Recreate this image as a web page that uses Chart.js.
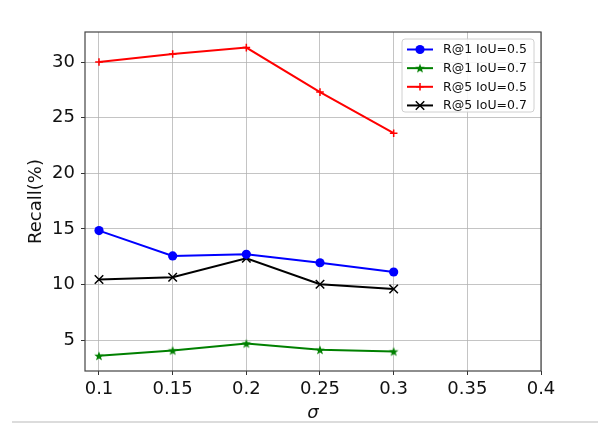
<!DOCTYPE html>
<html>
<head>
<meta charset="utf-8">
<script src="https://cdn.jsdelivr.net/npm/chart.js@4"></script>
<style>
  body { margin: 0; background: #fff; }
  #wrap { position: relative; width: 598px; height: 435px; }
  #rule { position: absolute; left: 12px; right: 0; top: 421px; height: 2px; background: #dcdcdc; }
</style>
</head>
<body>
<div id="wrap">
  <canvas id="chart" width="598" height="435"></canvas>
  <div id="rule"></div>
</div>
<script>
// data
const sigma = [0.1, 0.15, 0.2, 0.25, 0.3];
const r1Iou05 = [14.85, 12.57, 12.72, 11.96, 11.13];
const r1Iou07 = [3.59, 4.07, 4.70, 4.13, 3.98];
const r5Iou05 = [30.0, 30.72, 31.3, 27.3, 23.6];
const r5Iou07 = [10.45, 10.66, 12.36, 10.03, 9.6];
const seriesLabels = ['R@1 IoU=0.5', 'R@1 IoU=0.7', 'R@5 IoU=0.5', 'R@5 IoU=0.7'];
const xTicks = [0.1, 0.15, 0.2, 0.25, 0.3, 0.35, 0.4];
const yTicks = [5, 10, 15, 20, 25, 30];

const FONT = 'DejaVu Sans';

// filled five point star, like matplotlib '*'
function makeStar(color) {
  const c = document.createElement('canvas');
  c.width = 12; c.height = 12;
  const g = c.getContext('2d');
  g.beginPath();
  for (let i = 0; i < 10; i++) {
    const r = i % 2 === 0 ? 5 : 2.1;
    const a = -Math.PI / 2 + i * Math.PI / 5;
    const px = 6 + r * Math.cos(a), py = 6.4 + r * Math.sin(a);
    if (i === 0) g.moveTo(px, py); else g.lineTo(px, py);
  }
  g.closePath();
  g.fillStyle = color;
  g.fill();
  return c;
}

function toPoints(ys) {
  return sigma.map((x, i) => ({ x: x, y: ys[i] }));
}

const datasets = [
  { label: seriesLabels[0], data: toPoints(r1Iou05), borderColor: '#0000ff', backgroundColor: '#0000ff',
    pointStyle: 'circle', pointRadius: 4.6, pointBorderWidth: 0 },
  { label: seriesLabels[1], data: toPoints(r1Iou07), borderColor: '#008000', backgroundColor: '#008000',
    pointStyle: makeStar('#008000'), pointRadius: 5 },
  { label: seriesLabels[2], data: toPoints(r5Iou05), borderColor: '#ff0000', backgroundColor: '#ff0000',
    pointStyle: 'cross', pointRadius: 3.8, pointBorderWidth: 1.5 },
  { label: seriesLabels[3], data: toPoints(r5Iou07), borderColor: '#000000', backgroundColor: '#000000',
    pointStyle: 'crossRot', pointRadius: 6, pointBorderWidth: 1.5 }
];
datasets.forEach(d => { d.borderWidth = 2; d.tension = 0; d.fill = false; });

// frame on all four sides and a matplotlib style legend box
const framePlugin = {
  id: 'frame',
  afterDraw(chart) {
    const { ctx, chartArea: a } = chart;
    ctx.save();
    ctx.strokeStyle = '#444';
    ctx.lineWidth = 1.2;
    ctx.strokeRect(a.left, a.top, a.right - a.left, a.bottom - a.top);

    const bw = 132, bh = 73;
    const bx = a.right - 7 - bw, by = a.top + 7;
    ctx.beginPath();
    ctx.roundRect(bx, by, bw, bh, 3);
    ctx.fillStyle = 'rgba(255,255,255,0.85)';
    ctx.fill();
    ctx.strokeStyle = '#d0d0d0';
    ctx.lineWidth = 1;
    ctx.stroke();

    ctx.font = '12.5px "' + FONT + '"';
    ctx.textBaseline = 'middle';
    chart.data.datasets.forEach((d, i) => {
      const y = by + 10.5 + i * 18.65;
      ctx.strokeStyle = d.borderColor;
      ctx.lineWidth = 2;
      ctx.beginPath();
      ctx.moveTo(bx + 5, y);
      ctx.lineTo(bx + 31, y);
      ctx.stroke();
      // marker in the middle of the sample line
      ctx.fillStyle = d.backgroundColor;
      ctx.lineWidth = d.pointBorderWidth || 0;
      Chart.helpers.drawPoint(ctx, {
        pointStyle: d.pointStyle, radius: d.pointRadius, rotation: 0,
        borderWidth: d.pointBorderWidth || 0
      }, bx + 18, y);
      ctx.fillStyle = '#111';
      ctx.fillText(d.label, bx + 41, y + 0.5);
    });
    ctx.restore();
  }
};

const gridColor = 'rgba(176,176,176,0.75)';

new Chart(document.getElementById('chart'), {
  type: 'line',
  data: { datasets },
  options: {
    responsive: false,
    animation: false,
    layout: { padding: { top: 32, right: 57, left: 0, bottom: 0 } },
    plugins: { legend: { display: false }, tooltip: { enabled: false } },
    scales: {
      x: {
        type: 'linear',
        min: 0.0905,
        max: 0.4,
        afterBuildTicks: s => { s.ticks = xTicks.map(v => ({ value: v })); },
        afterFit: s => { s.height = 64; },
        grid: { color: gridColor, lineWidth: 1, tickLength: 4, tickColor: '#333' },
        border: { display: false },
        ticks: {
          color: '#111', padding: 4, maxRotation: 0,
          font: { family: FONT, size: 18 },
          callback: v => String(v)
        },
        title: { display: true, text: 'σ', color: '#111', padding: 11,
                 font: { family: FONT, size: 18, style: 'italic' } }
      },
      y: {
        min: 2.23,
        max: 32.7,
        afterBuildTicks: s => { s.ticks = yTicks.map(v => ({ value: v })); },
        afterFit: s => { s.width = 85; },
        grid: { color: gridColor, lineWidth: 1, tickLength: 4, tickColor: '#333' },
        border: { display: false },
        ticks: { color: '#111', padding: 6, font: { family: FONT, size: 18 } },
        title: { display: true, text: 'Recall(%)', color: '#111', padding: 26,
                 font: { family: FONT, size: 18 } }
      }
    }
  },
  plugins: [framePlugin]
});
</script>
</body>
</html>
